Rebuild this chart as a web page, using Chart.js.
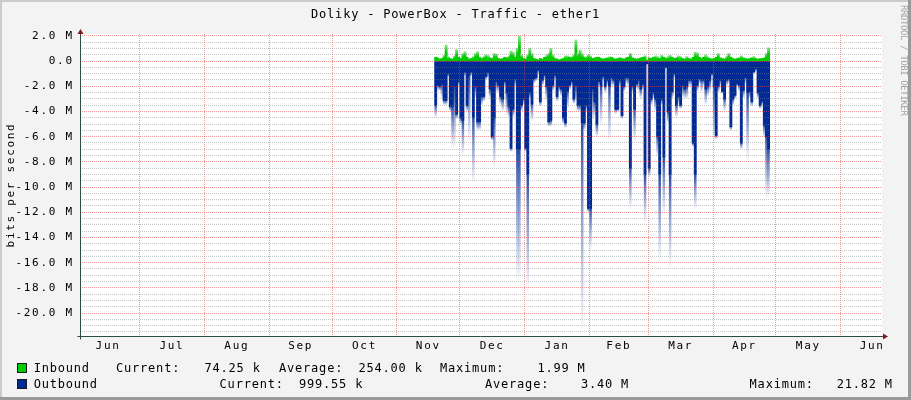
<!DOCTYPE html>
<html><head><meta charset="utf-8">
<script src="https://cdn.jsdelivr.net/npm/chart.js@4/dist/chart.umd.min.js"></script>
<style>
html,body{margin:0;padding:0;background:#f3f3f3;}
#wrap{position:relative;width:911px;height:400px;overflow:hidden;background:#f3f3f3;}
canvas{position:absolute;left:0;top:0;}
.txt{position:absolute;font-family:'DejaVu Sans Mono',monospace;font-size:12px;line-height:14px;letter-spacing:0.8px;color:#000;white-space:pre;}
.sq{position:absolute;width:8px;height:8px;border:1px solid #1a1a1a;}
.strip{position:absolute;}
</style></head><body>
<div id="wrap">
<canvas id="c" width="911" height="400"></canvas>
<div class="txt" style="left:0;top:7px;width:911px;text-align:center;">Doliky - PowerBox - Traffic - ether1</div>
<div class="txt" style="left:0;top:0;font-size:9px;line-height:9px;letter-spacing:-0.4px;color:#a4a4a4;transform-origin:0 0;transform:translate(907.5px,5px) rotate(90deg);">RRDTOOL / TOBI OETIKER</div>

<div class="sq" style="left:17px;top:363px;background:#00cc00;"></div>
<div class="txt" style="left:33.7px;top:361px;">Inbound</div>
<div class="txt" style="left:116px;top:361px;">Current:</div>
<div class="txt" style="left:204.5px;top:361px;">74.25 k</div>
<div class="txt" style="left:279px;top:361px;">Average:</div>
<div class="txt" style="left:358.5px;top:361px;">254.00 k</div>
<div class="txt" style="left:440px;top:361px;">Maximum:</div>
<div class="txt" style="left:537.5px;top:361px;">1.99 M</div>

<div class="sq" style="left:17px;top:379px;background:#002a97;"></div>
<div class="txt" style="left:33.7px;top:377px;">Outbound</div>
<div class="txt" style="left:219.6px;top:377px;">Current:</div>
<div class="txt" style="left:299px;top:377px;">999.55 k</div>
<div class="txt" style="left:485px;top:377px;">Average:</div>
<div class="txt" style="left:581px;top:377px;">3.40 M</div>
<div class="txt" style="left:749.6px;top:377px;">Maximum:</div>
<div class="txt" style="left:836.7px;top:377px;">21.82 M</div>

<div class="strip" style="left:0;top:0;width:911px;height:2px;background:#cbcbcb;"></div>
<div class="strip" style="left:0;top:0;width:2px;height:400px;background:#cbcbcb;"></div>
<div class="strip" style="left:908px;top:0;width:3px;height:400px;background:#9a9a9a;"></div>
<div class="strip" style="left:0;top:397px;width:911px;height:3px;background:#9a9a9a;"></div>
</div>
<script>
// ---- data (values in M bits/s) ----
const dayStart = 171.5; // first sample, days after Jun 1
const inbound = [
0.3,0.25,0.15,0.2,0.45,1.27,0.35,0.2,0.15,0.4,
0.9,0.3,0.2,0.6,0.74,0.3,0.15,0.2,0.35,0.6,
0.74,0.3,0.2,0.35,0.5,0.45,0.25,0.2,0.6,0.55,
0.2,0.15,0.2,0.3,0.25,0.4,0.8,0.7,0.3,1.0,
1.99,0.5,0.2,0.15,0.5,1.0,0.6,0.2,0.15,0.1,
0.2,0.15,0.3,0.45,0.6,1.0,0.5,0.2,0.15,0.1,
0.15,0.2,0.4,0.4,0.3,0.35,0.5,1.67,0.6,0.87,
0.6,0.3,0.35,0.5,0.4,0.2,0.25,0.3,0.3,0.2,
0.15,0.2,0.25,0.34,0.3,0.2,0.15,0.2,0.25,0.2,
0.15,0.25,0.3,0.6,0.25,0.2,0.15,0.2,0.25,0.3,
0.42,0.05,0.25,0.2,0.3,0.4,0.35,0.2,0.45,0.3,
0.2,0.35,0.45,0.3,0.2,0.25,0.4,0.35,0.2,0.15,
0.35,0.2,0.15,0.3,0.7,0.65,0.3,0.2,0.3,0.48,
0.35,0.2,0.15,0.2,0.3,0.6,0.25,0.2,0.15,0.35,
0.6,0.3,0.2,0.15,0.2,0.25,0.4,0.25,0.2,0.15,
0.2,0.25,0.35,0.2,0.15,0.2,0.2,0.25,0.6,1.05];
const outAvg = [
3.5,1.9,2.0,1.8,3.1,3.1,1.0,3.6,3.6,2.0,
4.2,1.6,4.5,4.7,0.85,3.5,1.1,0.85,4.5,2.0,
4.8,4.8,2.8,2.8,1.2,0.85,2.2,6.0,4.5,1.6,
1.9,2.8,3.0,1.6,2.5,3.6,6.9,3.8,1.4,7.0,
7.0,3.5,3.0,6.9,9.0,2.5,3.4,1.4,1.3,0.7,
3.2,1.5,1.1,2.0,4.8,4.7,1.9,1.1,2.8,2.0,
2.2,4.5,4.9,2.4,1.9,1.6,3.0,1.9,3.5,3.5,
4.9,4.9,3.5,11.7,11.7,2.2,3.2,5.0,1.6,2.0,
1.2,2.0,1.5,2.0,1.3,1.5,3.8,3.8,1.5,4.3,
2.0,1.3,1.3,8.5,2.0,3.8,1.8,1.5,2.2,1.8,
9.0,0.2,8.5,3.0,2.5,3.0,6.0,9.0,3.0,7.6,
0.5,4.0,9.0,2.4,1.0,3.5,2.8,3.5,1.9,2.2,
2.0,1.5,1.5,6.5,9.0,1.9,1.4,1.5,1.5,2.2,
2.0,1.5,1.0,2.0,5.9,2.0,1.5,2.4,3.0,1.5,
1.4,5.2,3.0,2.7,1.8,1.9,6.5,2.3,1.3,2.5,
2.4,3.2,0.85,0.6,2.5,3.5,3.2,5.1,6.0,7.0];
const outMax = [
4.5,2.3,2.4,3.0,3.5,3.5,1.3,4.0,6.9,6.9,
4.6,2.0,5.0,7.5,1.2,4.0,6.4,1.2,9.8,3.0,
5.5,5.5,3.5,3.2,1.5,1.4,3.0,6.3,8.5,2.5,
2.5,3.5,4.0,2.0,4.3,4.5,7.2,4.5,2.0,17.5,
17.5,4.0,3.5,7.2,18.4,3.0,4.8,1.8,1.6,1.0,
3.6,2.0,1.5,3.2,5.2,5.2,2.4,1.5,3.2,2.5,
2.8,5.0,5.3,3.8,2.3,2.0,3.4,3.2,4.0,4.0,
21.8,5.5,4.0,12.0,15.0,4.8,4.5,6.0,2.0,5.1,
1.6,2.5,2.0,6.4,2.0,2.0,4.2,4.0,2.0,4.6,
2.4,1.8,2.0,11.8,2.5,6.4,2.2,2.5,3.0,2.2,
12.9,0.3,9.2,3.5,3.0,4.0,7.6,16.0,3.5,12.2,
0.6,5.0,16.6,3.0,1.4,4.5,3.5,3.8,2.9,3.0,
3.0,2.0,2.0,6.8,11.8,2.4,1.8,2.5,2.0,3.5,
2.8,2.5,1.2,6.4,6.2,2.5,2.0,2.6,4.0,2.0,
1.8,5.5,3.5,3.0,2.0,2.4,7.0,3.0,1.8,8.0,
3.0,3.6,1.0,0.8,3.0,3.8,3.5,6.1,10.9,10.9];
// month boundaries (days after Jun 1) and labels
const monthBounds = [0,30,61,92,122,153,183,214,245,273,304,334,365,395];
const monthLabels = ['Jun','Jul','Aug','Sep','Oct','Nov','Dec','Jan','Feb','Mar','Apr','May','Jun'];
const yLabelValues = [2,0,-2,-4,-6,-8,-10,-12,-14,-16,-18,-20];
const yMinorStep = 0.5;

// ---- axis ranges ----
const xMin = 1.6, xMax = 384.7;
const yMin = -21.82, yMax = 2.15;

const FONT = 'DejaVu Sans Mono';
const GREEN = '#00cc00', BLUE = '#002a97';
const MAJOR = 'rgba(235,70,70,0.55)', MINOR = 'rgba(130,130,130,0.45)';
const boundarySet = new Set(monthBounds);
const midTicks = monthLabels.map((l, i) => (monthBounds[i] + monthBounds[i + 1]) / 2);
const midLabel = new Map(midTicks.map((v, i) => [v, monthLabels[i]]));
const yTicks = [];
for (let v = 2.0; v >= -21.5; v -= yMinorStep) yTicks.push(v);

function inColor(c) {
  if (c.dataIndex === undefined || !c.chart.chartArea) return GREEN;
  const ys = c.chart.scales.y, v = inbound[c.dataIndex];
  const p0 = ys.getPixelForValue(0), p1 = ys.getPixelForValue(v);
  if (p0 - p1 < 4) return GREEN;
  const g = c.chart.ctx.createLinearGradient(0, p0, 0, p1);
  g.addColorStop(0, GREEN); g.addColorStop(0.55, GREEN); g.addColorStop(1, '#8be68b');
  return g;
}
function tailColor(c) {
  if (c.dataIndex === undefined || !c.chart.chartArea) return 'rgba(0,42,151,0.5)';
  const ys = c.chart.scales.y, i = c.dataIndex;
  const p0 = ys.getPixelForValue(-outAvg[i]), p1 = ys.getPixelForValue(-outMax[i]);
  if (p1 - p0 < 1) return 'rgba(0,42,151,0.7)';
  const g = c.chart.ctx.createLinearGradient(0, p0, 0, p1);
  g.addColorStop(0, 'rgba(0,42,151,0.85)'); g.addColorStop(0.3, 'rgba(0,42,151,0.55)'); g.addColorStop(1, 'rgba(0,42,151,0)');
  return g;
}

const decor = {
  id: 'decor',
  beforeDraw(chart) {
    const {ctx, chartArea: a} = chart;
    ctx.save(); ctx.fillStyle = '#ffffff';
    ctx.fillRect(a.left, a.top, a.right - a.left, a.bottom - a.top);
    ctx.restore();
    ctx.letterSpacing = '1.7px';
  },
  afterDraw(chart) {
    const {ctx, chartArea: a} = chart;
    ctx.save();
    ctx.strokeStyle = '#2c4d43'; ctx.lineWidth = 1;
    const lx = Math.round(a.left) + 0.5, by = Math.round(a.bottom) + 0.5;
    ctx.beginPath();
    ctx.moveTo(lx, a.top - 3); ctx.lineTo(lx, by + 3);
    ctx.moveTo(lx - 3, by); ctx.lineTo(a.right + 2, by);
    ctx.stroke();
    ctx.fillStyle = '#7d1c1c';
    ctx.beginPath();
    ctx.moveTo(lx, a.top - 5); ctx.lineTo(lx - 3, a.top); ctx.lineTo(lx + 3, a.top); ctx.closePath(); ctx.fill();
    ctx.beginPath();
    ctx.moveTo(a.right + 6, by); ctx.lineTo(a.right + 1, by - 3); ctx.lineTo(a.right + 1, by + 3); ctx.closePath(); ctx.fill();
    ctx.restore();
  }
};

const barCommon = {grouped: false, barPercentage: 1, categoryPercentage: 1, borderWidth: 0};
new Chart(document.getElementById('c'), {
  type: 'bar',
  data: {
    datasets: [
      Object.assign({label: 'Inbound', data: inbound.map((v, i) => ({x: dayStart + i, y: v})),
        backgroundColor: inColor, inflateAmount: 0.4}, barCommon),
      Object.assign({label: 'Outbound', data: outAvg.map((v, i) => ({x: dayStart + i, y: -v})),
        backgroundColor: BLUE, inflateAmount: 0.4}, barCommon),
      Object.assign({label: 'Outbound peak', data: outAvg.map((v, i) => ({x: dayStart + i, y: [-v, -outMax[i]]})),
        backgroundColor: tailColor, inflateAmount: 0.2}, barCommon)
    ]
  },
  options: {
    responsive: false, animation: false, devicePixelRatio: 1, events: [],
    layout: {padding: {left: 0, right: 29, top: 34, bottom: 0}},
    plugins: {legend: {display: false}, tooltip: {enabled: false}, title: {display: false}},
    scales: {
      x: {
        type: 'linear', min: xMin, max: xMax, bounds: 'data', offset: false,
        afterBuildTicks: s => { s.ticks = monthBounds.filter(v => v > xMin && v < xMax).concat(midTicks).sort((a, b) => a - b).map(v => ({value: v})); },
        afterFit: s => { s.height = 64; },
        grid: {z: 1, offset: false, drawTicks: false, lineWidth: 1, borderDash: [1, 1],
          color: c => (c.tick && boundarySet.has(c.tick.value)) ? MAJOR : 'rgba(0,0,0,0)'},
        border: {display: false, dash: [1, 1]},
        ticks: {autoSkip: false, maxRotation: 0, minRotation: 0, padding: 4,
          font: {family: FONT, size: 11}, color: '#000',
          callback: v => midLabel.has(v) ? midLabel.get(v) : ''}
      },
      y: {
        type: 'linear', min: yMin, max: yMax, bounds: 'data',
        afterBuildTicks: s => { s.ticks = yTicks.map(v => ({value: v})); },
        afterFit: s => { s.width = 80; },
        grid: {z: 1, offset: false, drawTicks: false, lineWidth: 1, borderDash: [1, 1],
          color: c => (c.tick && yLabelValues.includes(c.tick.value)) ? MAJOR : MINOR},
        border: {display: false, dash: [1, 1]},
        ticks: {autoSkip: false, padding: 6.3, font: {family: FONT, size: 11}, color: '#000',
          callback: v => yLabelValues.includes(v) ? (v === 0 ? '0.0' : v.toFixed(1) + ' M') : ''},
        title: {display: true, text: 'bits per second', font: {family: FONT, size: 11}, color: '#000', padding: {top: 5, bottom: 0}}
      }
    }
  },
  plugins: [decor]
});
</script>
</body></html>
